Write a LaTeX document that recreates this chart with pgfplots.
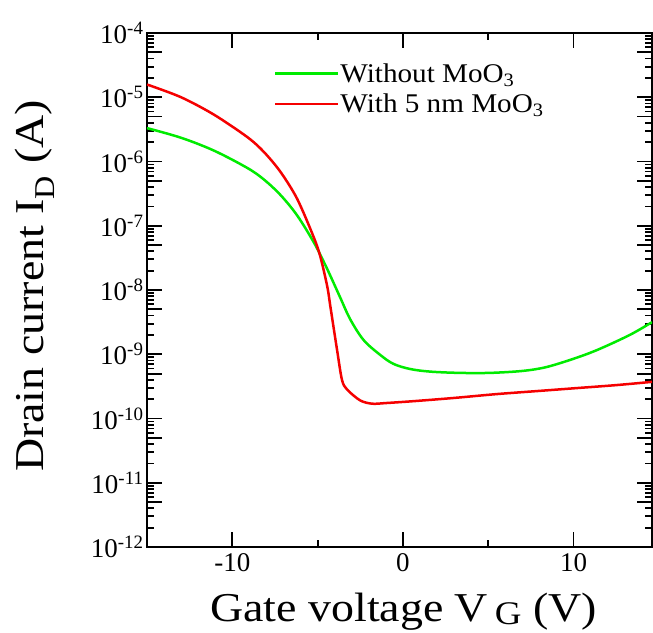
\documentclass[border=0pt]{standalone}
\usepackage{fontspec}
\setmainfont{Liberation Serif}
\newfontfamily\labelfont{Liberation Serif}[FakeStretch=1.12]
\newfontfamily\legfont{Liberation Serif}[FakeStretch=1.08]
\usepackage{pgfplots}
\pgfplotsset{compat=1.18}
\definecolor{cgreen}{RGB}{0,235,0}
\definecolor{cred}{RGB}{245,0,0}
\begin{document}
\begin{tikzpicture}
\begin{semilogyaxis}[
  scale only axis,
  width=505pt, height=514pt,
  xmin=-15, xmax=14.6,
  ymin=1e-12, ymax=1e-4,
  axis line style={line width=2pt},
  tick style={line width=1.8pt, black},
  tick align=inside,
  major tick length=15pt,
  minor tick length=7pt,
  xtick={-10,0,10},
  xticklabels={-10,0,10},
  minor xtick={-5,5},
  ytick={1e-12,1e-11,1e-10,1e-9,1e-8,1e-7,1e-6,1e-5,1e-4},
  yticklabels={10\textsuperscript{-12},10\textsuperscript{-11},10\textsuperscript{-10},10\textsuperscript{-9},10\textsuperscript{-8},10\textsuperscript{-7},10\textsuperscript{-6},10\textsuperscript{-5},10\textsuperscript{-4}},
  minor ytick={2e-12,3e-12,4e-12,5e-12,6e-12,7e-12,8e-12,9e-12,
               2e-11,3e-11,4e-11,5e-11,6e-11,7e-11,8e-11,9e-11,
               2e-10,3e-10,4e-10,5e-10,6e-10,7e-10,8e-10,9e-10,
               2e-9,3e-9,4e-9,5e-9,6e-9,7e-9,8e-9,9e-9,
               2e-8,3e-8,4e-8,5e-8,6e-8,7e-8,8e-8,9e-8,
               2e-7,3e-7,4e-7,5e-7,6e-7,7e-7,8e-7,9e-7,
               2e-6,3e-6,4e-6,5e-6,6e-6,7e-6,8e-6,9e-6,
               2e-5,3e-5,4e-5,5e-5,6e-5,7e-5,8e-5,9e-5},
  extra y ticks={5e-12,5e-11,5e-10,5e-9,5e-8,5e-7,5e-6,5e-5},
  extra y tick labels={},
  ticklabel style={font=\fontsize{27}{32}\selectfont},
  xticklabel style={yshift=-3pt},
  every axis x label/.style={at={(rel axis cs:0.5,0)}, yshift=-74pt, xshift=4pt, anchor=base},
  every axis y label/.style={at={(rel axis cs:0,0.5)}, xshift=-103pt, yshift=4pt, rotate=90, anchor=base},
  label style={font=\labelfont\fontsize{41}{48}\selectfont},
  xlabel={Gate voltage V\,\raisebox{-3pt}{\fontsize{33}{38}\selectfont G} (V)},
  ylabel={Drain current I\textsubscript{D} (A)},
  legend style={draw=none, fill=none, at={(rel axis cs:0.251,0.943)}, anchor=north west,
    font=\legfont\fontsize{27}{31}\selectfont, inner sep=0pt, row sep=8pt,
    nodes={inner sep=1pt}},
  legend cell align=left,
  legend image code/.code={\draw[#1, line width=2.5pt] (0pt,0pt) -- (63pt,0pt);},
]
\addplot[cgreen, line width=2.5pt, smooth, tension=0.55] coordinates {
(-15,3.31e-6) (-13.0,2.34e-6) (-11.08,1.48e-6) (-9.12,7.94e-7) (-8.15,5.25e-7)
(-7.18,3.02e-7) (-6.2,1.45e-7) (-5.24,5.62e-8) (-4.64,2.75e-8) (-4.25,1.66e-8)
(-3.67,7.59e-9) (-3.08,3.47e-9) (-2.30,1.66e-9) (-1.33,9.77e-10) (-0.55,7.08e-10)
(0.43,5.89e-10) (1.6,5.37e-10) (3.3,5.13e-10) (5.1,5.13e-10) (7.0,5.50e-10)
(8.4,6.31e-10) (10,8.51e-10) (11.4,1.17e-9) (13.3,2.0e-9) (14.6,3.16e-9)
};
\addlegendentry{Without MoO\textsubscript{3}}
\addplot[cred, line width=2.5pt, smooth, tension=0.5] coordinates {
(-15,1.58e-5) (-13.0,1.0e-5) (-11.08,5.37e-6) (-9.12,2.40e-6) (-8.15,1.41e-6)
(-7.18,6.92e-7) (-6.2,2.63e-7) (-5.24,6.76e-8) (-4.84,3.31e-8) (-4.43,1.12e-8)
(-4.25,5.50e-9) (-3.86,1.17e-9) (-3.57,3.98e-10) (-3.27,2.82e-10) (-2.5,1.91e-10)
(-1.8,1.70e-10) (-1.0,1.74e-10) (0.6,1.86e-10) (3.0,2.09e-10) (5.5,2.40e-10)
(8.0,2.69e-10) (10,2.95e-10) (12.5,3.31e-10) (14.6,3.72e-10)
};
\addlegendentry{With 5 nm MoO\textsubscript{3}}
\coordinate (SW) at (rel axis cs:0,0);
\end{semilogyaxis}
\pgfresetboundingbox
\path (SW) ++(-147pt,-85pt) rectangle ++(653pt,632pt);
\end{tikzpicture}
\end{document}
